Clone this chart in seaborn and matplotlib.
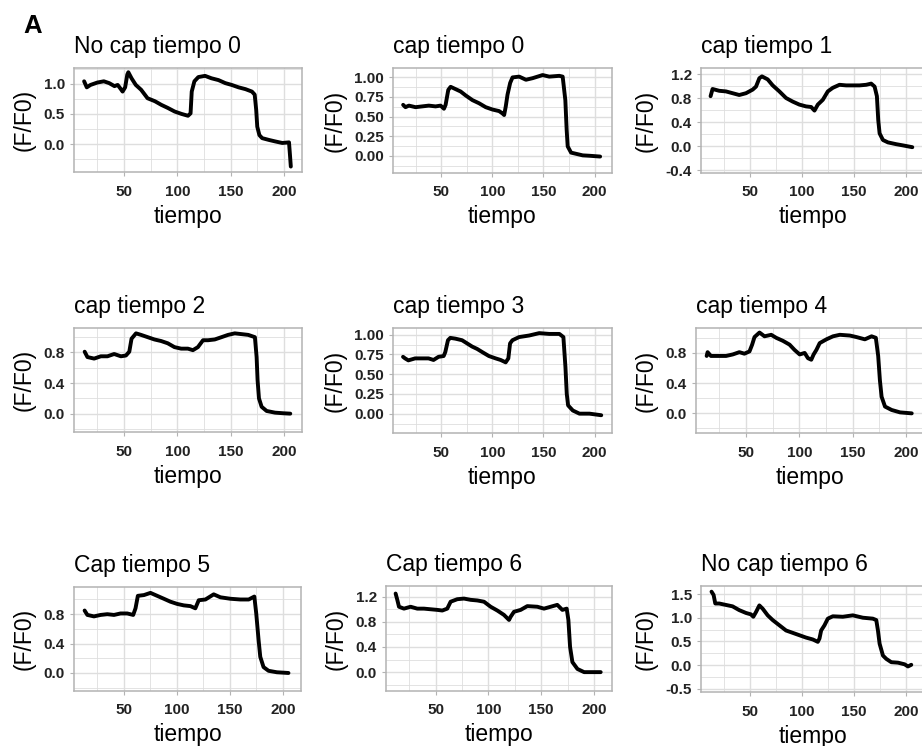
import matplotlib
matplotlib.use("Agg")
import matplotlib.pyplot as plt
import seaborn as sns

# ---------------------------------------------------------------- data
panel_titles = ["No cap tiempo 0", "cap tiempo 0", "cap tiempo 1",
                "cap tiempo 2", "cap tiempo 3", "cap tiempo 4",
                "Cap tiempo 5", "Cap tiempo 6", "No cap tiempo 6"]

t_nocap0 = [12.5, 15, 18.5, 25, 31, 36, 41, 44, 47, 48.6, 51, 53, 54, 57, 61, 66,
            72, 79, 85, 91, 97.5, 104, 110, 112.4, 113.5, 116, 119.7, 126, 132,
            138.6, 145, 151, 157.5, 164, 170, 172.6, 174, 175, 177, 179.6, 186,
            192, 198.5, 204.8, 205.8, 206.5]
f_nocap0 = [1.04, 0.94, 0.98, 1.02, 1.04, 1.01, 0.96, 0.98, 0.91, 0.87, 0.94, 1.15,
            1.19, 1.09, 0.98, 0.90, 0.76, 0.71, 0.65, 0.60, 0.54, 0.50, 0.47, 0.51,
            0.87, 1.04, 1.11, 1.13, 1.09, 1.06, 1.01, 0.98, 0.94, 0.91, 0.87, 0.82,
            0.57, 0.29, 0.15, 0.10, 0.07, 0.045, 0.02, 0.03, -0.20, -0.37]

t_cap0 = [12.9, 15.2, 18.5, 25, 31.5, 38, 44.6, 49.5, 52.8, 54.4, 57, 59.3, 64.2,
          69.1, 74, 80.6, 87.1, 93.6, 100.2, 106.7, 110, 111.6, 113.2, 114.9, 117.5,
          119.8, 126.3, 132.9, 139.4, 149.2, 155.7, 165.5, 168.8, 171.4, 172.7,
          173.7, 177, 181.9, 188.4, 195, 205.4]
f_cap0 = [0.65, 0.62, 0.64, 0.62, 0.63, 0.64, 0.63, 0.64, 0.60, 0.65, 0.84, 0.88,
          0.85, 0.82, 0.77, 0.71, 0.67, 0.62, 0.59, 0.57, 0.54, 0.52, 0.63, 0.78,
          0.93, 1.00, 1.01, 0.97, 0.99, 1.03, 1.01, 1.02, 1.01, 0.71, 0.33, 0.12,
          0.04, 0.025, 0.005, 0.0, -0.01]

t_cap1 = [12.2, 14.1, 20.5, 26.9, 33.3, 39.7, 46.2, 52.6, 55.8, 59, 61.5, 67, 71.8,
          78.2, 84.6, 91, 97.4, 103.8, 108.7, 111.9, 115.1, 119.9, 124.7, 129.5,
          135.9, 142.3, 148.7, 155.1, 161.5, 166.3, 169.6, 171.8, 173.1, 174.4,
          177.6, 182.4, 190.4, 196.8, 205.8]
f_cap1 = [0.83, 0.95, 0.92, 0.91, 0.88, 0.85, 0.88, 0.94, 0.99, 1.13, 1.16, 1.11,
          1.01, 0.91, 0.80, 0.74, 0.69, 0.66, 0.65, 0.59, 0.69, 0.77, 0.91, 0.97,
          1.02, 1.01, 1.01, 1.01, 1.02, 1.04, 0.99, 0.83, 0.43, 0.21, 0.10, 0.06,
          0.03, 0.01, -0.02]

t_cap2 = [13.0, 15.6, 21.9, 28.2, 34.4, 40.7, 47, 51.7, 54.9, 57, 61.2, 65.9, 72.2,
          78.5, 84.7, 91, 97.3, 103.6, 109.9, 114.6, 119.3, 124.1, 128.8, 135.1,
          141.4, 147.6, 153.9, 160.2, 166.5, 172.8, 174.4, 175.3, 176.6, 179.1,
          183.8, 191.7, 199.5, 206]
f_cap2 = [0.81, 0.74, 0.72, 0.75, 0.75, 0.78, 0.75, 0.76, 0.81, 0.98, 1.05, 1.03,
          1.00, 0.97, 0.95, 0.92, 0.87, 0.85, 0.85, 0.83, 0.87, 0.96, 0.96, 0.97,
          1.00, 1.03, 1.05, 1.04, 1.03, 1.00, 0.74, 0.44, 0.20, 0.09, 0.035, 0.013,
          0.005, 0.0]

t_cap3 = [12.8, 14.8, 18, 24.6, 31.1, 37.7, 42.6, 47.5, 52.5, 54.1, 56.7, 59, 64,
          70.5, 75.4, 80.3, 85.2, 90.2, 96.7, 103.3, 108.2, 113.1, 115.7, 117.4,
          119.7, 126.2, 136.1, 145.9, 155.7, 165.6, 169.5, 171.5, 172.8, 174.1,
          178.7, 185.2, 195, 206.5]
f_cap3 = [0.72, 0.70, 0.675, 0.70, 0.70, 0.70, 0.68, 0.72, 0.73, 0.78, 0.93, 0.96,
          0.95, 0.93, 0.89, 0.85, 0.82, 0.78, 0.73, 0.70, 0.68, 0.65, 0.70, 0.89,
          0.93, 0.97, 0.99, 1.02, 1.01, 1.01, 0.97, 0.59, 0.25, 0.105, 0.04, 0.0,
          0.0, -0.02]

t_cap4 = [13.0, 13.9, 17, 24.9, 31.2, 37.5, 43.7, 48.4, 53.2, 55.7, 57.9, 62.6,
          67.3, 73.6, 78.3, 84.6, 90.8, 95.5, 100.3, 105, 108.1, 111.2, 113.4, 116,
          119.1, 125.4, 131.6, 138, 147.4, 153.6, 161.5, 167.8, 171.8, 174, 175.6,
          177.2, 180.4, 186.6, 194.5, 205.5]
f_cap4 = [0.76, 0.81, 0.76, 0.76, 0.76, 0.78, 0.81, 0.79, 0.82, 0.91, 1.01, 1.07,
          1.02, 1.04, 1.00, 0.96, 0.91, 0.84, 0.78, 0.80, 0.73, 0.71, 0.78, 0.84,
          0.93, 0.98, 1.02, 1.04, 1.03, 1.01, 0.98, 1.02, 1.00, 0.76, 0.44, 0.22,
          0.09, 0.045, 0.013, 0.0]

t_cap5 = [13, 15.6, 21.8, 28.1, 34.4, 40.7, 46.9, 53.2, 58.8, 61, 63.2, 68.9, 75.1,
          81.4, 87.7, 93.9, 100.2, 106.5, 112.7, 117.4, 120.6, 126.9, 134.7, 141,
          150.4, 159.8, 167.7, 173, 174.8, 177, 178.6, 181.7, 186.4, 194.2, 205.2]
f_cap5 = [0.85, 0.79, 0.77, 0.79, 0.80, 0.79, 0.81, 0.81, 0.79, 0.88, 1.05, 1.06,
          1.09, 1.05, 1.01, 0.97, 0.94, 0.92, 0.91, 0.88, 0.99, 1.00, 1.07, 1.03,
          1.01, 1.00, 1.00, 1.04, 0.81, 0.45, 0.22, 0.08, 0.03, 0.01, 0.0]

t_cap6 = [12.1, 13.7, 15.3, 20, 26.3, 32.6, 38.9, 45.2, 51.6, 56.3, 61, 64.2, 70.5,
          76.8, 83.1, 89.5, 95.8, 102.1, 108.4, 114.7, 119.5, 121, 124.2, 130.5,
          136.8, 146.3, 152.6, 158.9, 165.2, 170, 174.1, 175.7, 177.3, 179.5, 184.3,
          190.6, 200, 206.3]
f_cap6 = [1.25, 1.15, 1.04, 1.01, 1.04, 1.01, 1.01, 1.00, 0.99, 0.98, 1.01, 1.12,
          1.16, 1.17, 1.15, 1.14, 1.12, 1.04, 0.98, 0.91, 0.83, 0.88, 0.96, 0.99,
          1.05, 1.04, 1.01, 1.04, 1.07, 0.99, 1.01, 0.83, 0.40, 0.16, 0.05, 0.0,
          0.0, 0.0]

t_nocap6 = [13.1, 15.1, 16.7, 20.5, 26.9, 33.3, 39.7, 46.2, 51, 53.2, 55.8, 59,
            62.2, 67, 71.8, 78.2, 84.6, 91, 97.4, 103.8, 110.3, 115.1, 116.7, 118.3,
            121.5, 124.7, 129.5, 139.1, 148.7, 158.3, 167.9, 171.2, 172.8, 174.4,
            177.6, 180.8, 185.6, 192, 198.4, 201.6, 204.8]
f_nocap6 = [1.55, 1.48, 1.30, 1.30, 1.27, 1.24, 1.16, 1.10, 1.07, 1.02, 1.12, 1.26,
            1.19, 1.05, 0.95, 0.84, 0.73, 0.68, 0.63, 0.58, 0.54, 0.49, 0.56, 0.73,
            0.84, 0.98, 1.03, 1.02, 1.05, 1.00, 0.98, 0.95, 0.73, 0.45, 0.20, 0.13,
            0.06, 0.05, 0.015, -0.03, 0.005]

x_ticks = [50, 100, 150, 200]
x_tick_labels = ["50", "100", "150", "200"]

y_ticks_half = [0.0, 0.5, 1.0]
y_labels_half = ["0.0", "0.5", "1.0"]
y_ticks_quarter = [0.0, 0.25, 0.5, 0.75, 1.0]
y_labels_quarter = ["0.00", "0.25", "0.50", "0.75", "1.00"]
y_ticks_wide = [-0.4, 0.0, 0.4, 0.8, 1.2]
y_labels_wide = ["-0.4", "0.0", "0.4", "0.8", "1.2"]
y_ticks_short = [0.0, 0.4, 0.8]
y_labels_short = ["0.0", "0.4", "0.8"]
y_ticks_cap6 = [0.0, 0.4, 0.8, 1.2]
y_labels_cap6 = ["0.0", "0.4", "0.8", "1.2"]
y_ticks_nocap6 = [-0.5, 0.0, 0.5, 1.0, 1.5]
y_labels_nocap6 = ["-0.5", "0.0", "0.5", "1.0", "1.5"]

series = [(t_nocap0, f_nocap0), (t_cap0, f_cap0), (t_cap1, f_cap1),
          (t_cap2, f_cap2), (t_cap3, f_cap3), (t_cap4, f_cap4),
          (t_cap5, f_cap5), (t_cap6, f_cap6), (t_nocap6, f_nocap6)]
y_axes = [(y_ticks_half, y_labels_half), (y_ticks_quarter, y_labels_quarter),
          (y_ticks_wide, y_labels_wide), (y_ticks_short, y_labels_short),
          (y_ticks_quarter, y_labels_quarter), (y_ticks_short, y_labels_short),
          (y_ticks_short, y_labels_short), (y_ticks_cap6, y_labels_cap6),
          (y_ticks_nocap6, y_labels_nocap6)]

# ---------------------------------------------------------------- layout
W, H = 922, 746
# panel boxes in pixels: left, top, right, bottom
boxes = [(74, 68, 302, 172), (393, 68, 612, 173), (701, 68, 924, 173),
         (74, 328, 302, 432), (393, 328, 612, 433), (696, 328, 924, 433),
         (74, 587, 301, 691), (386, 586, 612, 691), (701, 586, 924, 692)]
# distance from panel bottom to the x-axis title baseline, in pixels
XLABEL_DROP = 50.5
y_limits = [(-0.46, 1.26), (-0.22, 1.12), (-0.45, 1.30),
            (-0.24, 1.12), (-0.245, 1.085), (-0.26, 1.13),
            (-0.245, 1.17), (-0.30, 1.37), (-0.57, 1.67)]
x_limits = (3, 217)

sns.set_theme(style="white")
plt.rcParams['font.family'] = ['Liberation Sans', 'DejaVu Sans']

GRID = "#DEDEDE"
BORDER = "#B3B3B3"
TICKTEXT = "#222222"

fig = plt.figure(figsize=(W / 100, H / 100), dpi=100)
fig.patch.set_facecolor("white")

for i, (l, tp, r, b) in enumerate(boxes):
    ax = fig.add_axes([l / W, 1 - b / H, (r - l) / W, (b - tp) / H])
    t, f = series[i]
    sns.lineplot(x=t, y=f, ax=ax, color="black", linewidth=2.8,
                 sort=False, estimator=None)
    for line in ax.get_lines():
        line.set_solid_joinstyle("round")
        line.set_solid_capstyle("round")

    yt, ytl = y_axes[i]
    ax.set_xticks(x_ticks, labels=x_tick_labels, fontweight="bold")
    ax.set_yticks(yt, labels=ytl, fontweight="bold")
    # minor grid lines halfway between the major breaks
    ax.set_xticks([x - 25 for x in x_ticks], minor=True)
    step = yt[1] - yt[0]
    ax.set_yticks([v - step / 2 for v in yt] + [yt[-1] + step / 2], minor=True)
    ax.set_xlim(*x_limits)
    ax.set_ylim(*y_limits[i])

    ax.grid(which="major", color=GRID, linewidth=1.0)
    ax.grid(which="minor", color=GRID, linewidth=0.6)
    ax.set_axisbelow(True)
    ax.set_facecolor("white")
    for s in ax.spines.values():
        s.set_color(BORDER)
        s.set_linewidth(1.1)

    ax.tick_params(which="major", length=3, width=0.8, color=BORDER,
                   labelsize=11, labelcolor=TICKTEXT)
    ax.tick_params(axis="x", which="major", pad=6.0, bottom=True)
    ax.tick_params(axis="y", which="major", pad=3.5, left=True)
    ax.tick_params(which="minor", length=0)

    ax.set_xlabel("tiempo", fontsize=16.5, color="black", va="baseline")
    ax.xaxis.set_label_coords(0.5, -XLABEL_DROP / (b - tp))
    ax.set_ylabel("(F/F0)", fontsize=16.5, labelpad=5.5, color="black")
    ax.set_title(panel_titles[i], loc="left", fontsize=16.5, pad=10.6,
                 color="black")

fig.text(23 / W, 1 - 33 / H, "A", fontsize=18.5, fontweight="bold",
         va="baseline", ha="left", color="black")

fig.savefig("out.png", dpi=100, facecolor="white")
